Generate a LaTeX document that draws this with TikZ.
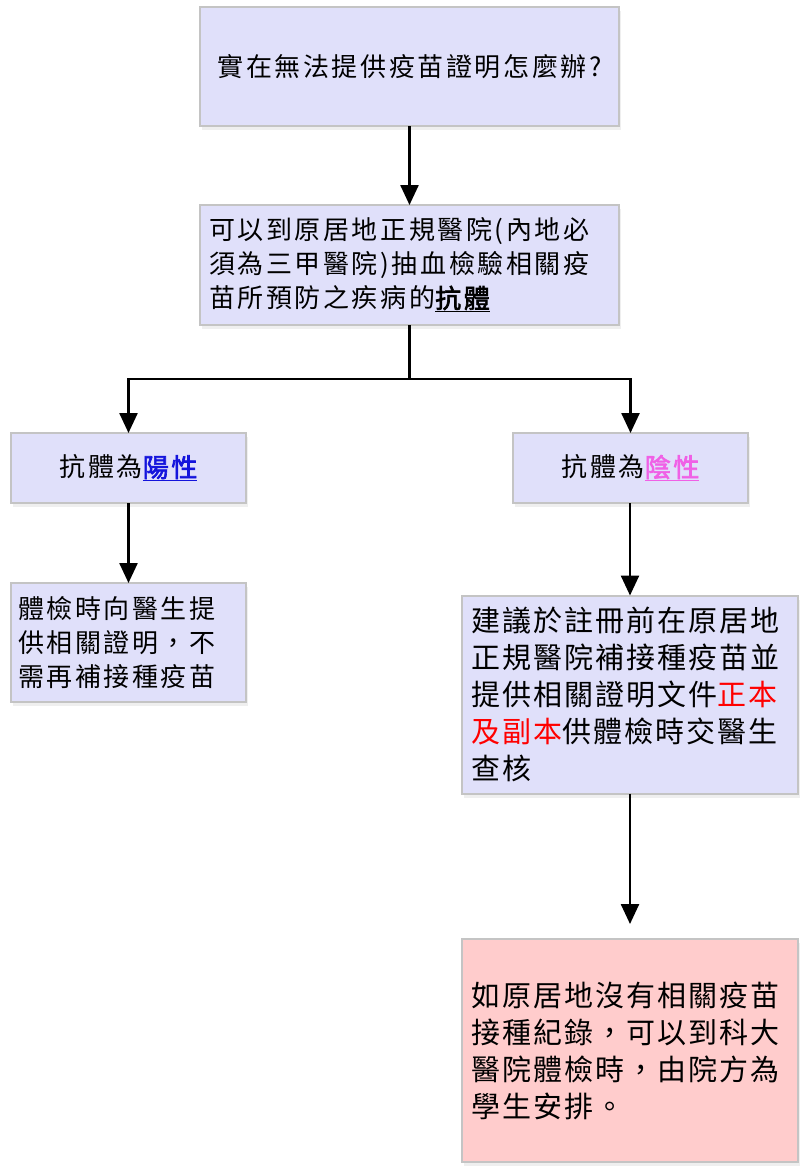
\documentclass[tikz,border=0pt]{standalone}
\usepackage{fontspec}
\setmainfont{Noto Sans CJK TC}[AutoFakeBold=2.5]
\newfontfamily\fa{Noto Sans CJK TC}[LetterSpace=10,AutoFakeBold=2.5]
\newfontfamily\fb{Noto Sans CJK TC}[LetterSpace=7,AutoFakeBold=2.5]
\usetikzlibrary{arrows.meta,shadows}
\definecolor{boxfill}{RGB}{224,224,250}
\definecolor{pinkfill}{RGB}{255,204,204}
\definecolor{boxline}{RGB}{196,196,196}
\definecolor{posblue}{RGB}{20,20,220}
\definecolor{negpink}{RGB}{240,96,230}
\definecolor{redtxt}{RGB}{255,0,0}
\newcommand{\ul}[1]{\underline{\textbf{#1}\kern-2.6pt}}
\tikzset{
  box/.style={draw=boxline, line width=2pt, fill=boxfill, rectangle,
    drop shadow={shadow xshift=2pt, shadow yshift=-4pt, opacity=0.12, fill=gray},
    inner sep=0pt, outer sep=0pt},
  smalltxt/.style={font={\fa\fontsize{26}{34}\selectfont}},
  bigtxt/.style={font={\fb\fontsize{29}{37}\selectfont}},
  arr/.style={line width=2.5pt, draw=black, -{Triangle[width=18pt,length=20pt]}},
  ln/.style={line width=2.5pt, draw=black}
}
\begin{document}
\begin{tikzpicture}[x=1pt,y=-1pt]
\useasboundingbox[fill=white] (0,0) rectangle (804,1168);

\node[box, smalltxt, minimum width=419pt, minimum height=119pt, align=center]
  (b1) at (409.5,66.5) {實在無法提供疫苗證明怎麼辦?};

\node[box, smalltxt, minimum width=419pt, minimum height=120pt,
  text width=401pt, align=left]
  (b2) at (409.5,265) {可以到原居地正規醫院(內地必\\須為三甲醫院)抽血檢驗相關疫\\苗所預防之疾病的\ul{抗體}};

\node[box, smalltxt, minimum width=235pt, minimum height=70pt, align=center]
  (b3) at (128.5,468) {抗體為\textcolor{posblue}{\ul{陽性}}};

\node[box, smalltxt, minimum width=235pt, minimum height=70pt, align=center]
  (b4) at (630.5,468) {抗體為\textcolor{negpink}{\ul{陰性}}};

\node[box, smalltxt, minimum width=235pt, minimum height=119pt,
  text width=221pt, align=left]
  (b5) at (128.5,642.5) {體檢時向醫生提\\供相關證明，不\\需再補接種疫苗};

\node[box, bigtxt, minimum width=336pt, minimum height=198pt,
  text width=318pt, align=left]
  (b6) at (630,694.5) {建議於註冊前在原居地\\正規醫院補接種疫苗並\\提供相關證明文件\textcolor{redtxt}{正本}\\\textcolor{redtxt}{及副本}供體檢時交醫生\\查核};

\node[box, bigtxt, fill=pinkfill, minimum width=336pt, minimum height=223pt,
  text width=318pt, align=left]
  (b7) at (630,1050.5) {如原居地沒有相關疫苗\\接種紀錄，可以到科大\\醫院體檢時，由院方為\\學生安排。};

\coordinate (j) at (409.5,379);
\draw[arr] (b1.south) -- (b2.north);
\draw[ln] (b2.south) -- (j);
\draw[arr] (j) -| (b3.north);
\draw[arr] (j) -| (b4.north);
\draw[arr] (b3.south) -- (b5.north);
\draw[arr] (b6.north |- b4.south) -- (b6.north);
\draw[arr, shorten >=15pt] (b6.south) -- (b7.north);
\end{tikzpicture}
\end{document}
